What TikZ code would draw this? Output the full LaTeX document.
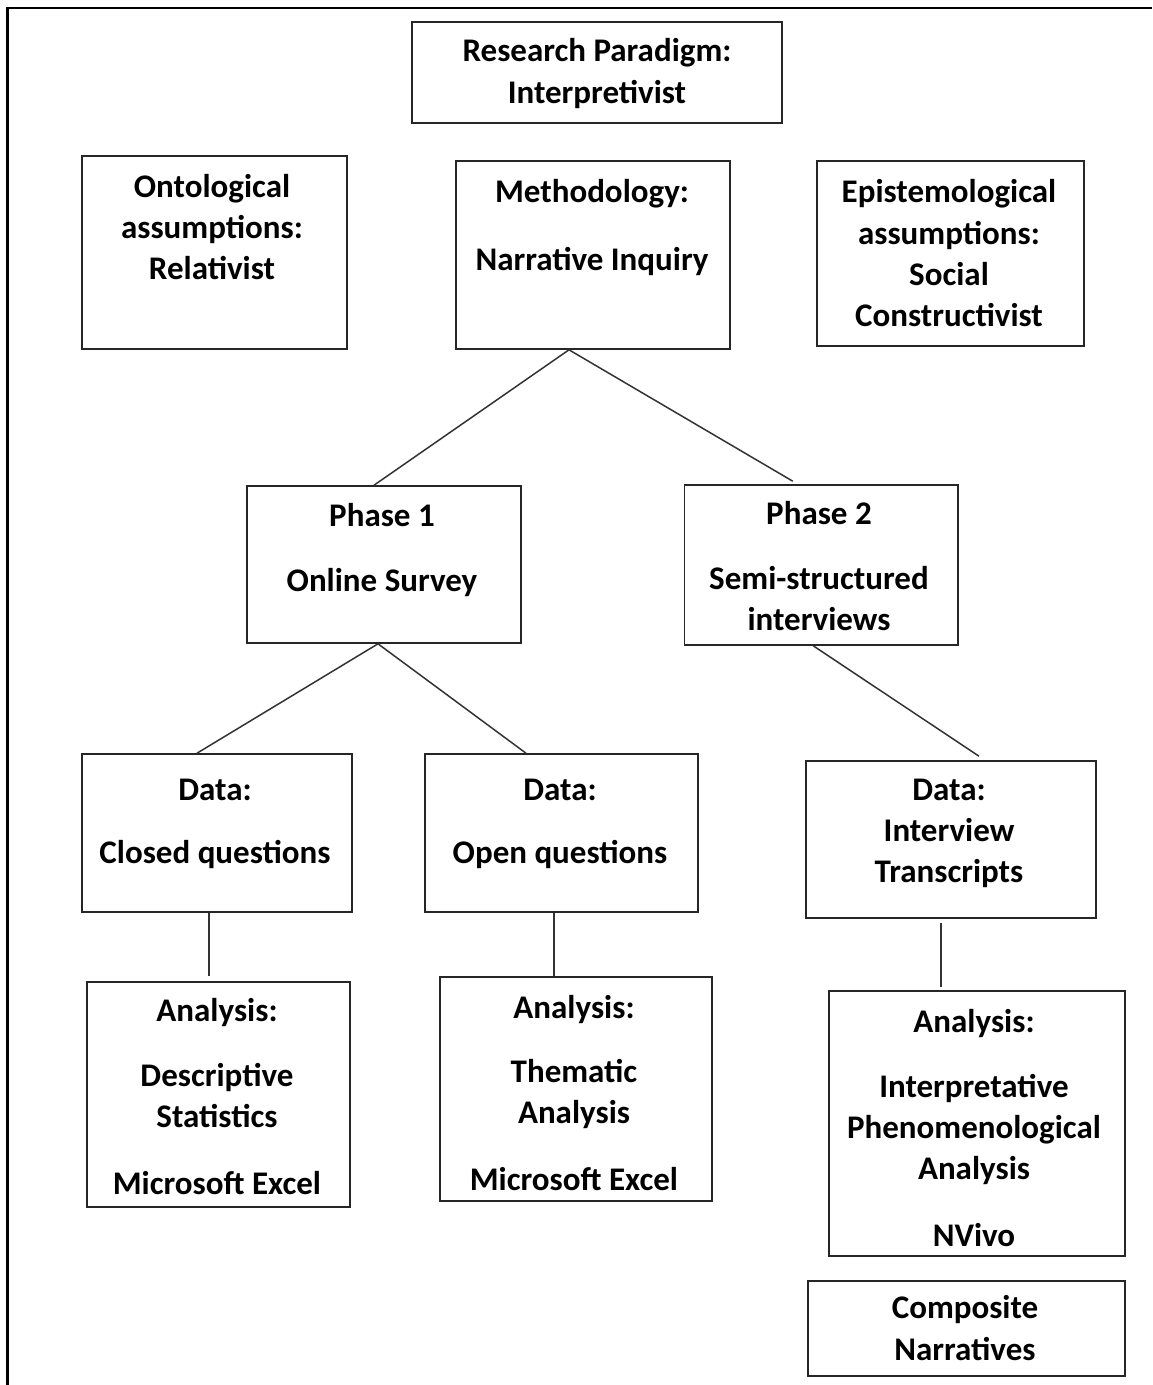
\documentclass[tikz,border=0pt]{standalone}
\usepackage{fontspec}
\newfontfamily\carlito{Carlito}
\begin{document}
\begin{tikzpicture}[x=1pt,y=-1pt,
  box/.style={draw=black!85,line width=1.6pt,rectangle,inner sep=0pt},
  txt/.style={anchor=north,align=center,inner sep=0pt,
    font=\carlito\bfseries\fontsize{33}{41.3}\selectfont,
    execute at begin node=\strut},
  link/.style={draw=black!80,line width=1.5pt}]
\useasboundingbox (0,0) rectangle (1152,1385);
% outer frame (open at right and bottom)
\draw[line width=2.5pt] (7.5,1385) -- (7.5,8) -- (1152,8);

% boxes
\node[box,minimum width=370pt,minimum height=101pt] (para) at (597,72.5) {};
\node[box,minimum width=265pt,minimum height=193pt] (onto) at (214.5,252.5) {};
\node[box,minimum width=274pt,minimum height=188pt] (meth) at (593,255) {};
\node[box,minimum width=267pt,minimum height=185pt] (epis) at (950.5,253.5) {};
\node[box,minimum width=274pt,minimum height=157pt] (ph1) at (384,564.5) {};
\node[box,minimum width=273.5pt,minimum height=160pt] (ph2) at (821.25,565) {};
\node[box,minimum width=270pt,minimum height=158pt] (dcl) at (217,833) {};
\node[box,minimum width=273pt,minimum height=158pt] (dop) at (561.5,833) {};
\node[box,minimum width=290pt,minimum height=157pt] (dint) at (951,839.5) {};
\node[box,minimum width=263pt,minimum height=225pt] (an1) at (218.5,1094.5) {};
\node[box,minimum width=272pt,minimum height=224pt] (an2) at (576,1089) {};
\node[box,minimum width=296pt,minimum height=265pt] (an3) at (977,1123.5) {};
\node[box,minimum width=317pt,minimum height=95pt] (comp) at (966.5,1328.5) {};

% texts, each placed by the top of its first line
\node[txt] (paraT) at (597,38.5) {Research Paradigm:\\Interpretivist};
\node[txt] (ontoT) at (212,174) {Ontological\\assumptions:\\Relativist};
\node[txt] (methT) at (592,179.5) {Methodology:\\[26pt]Narrative Inquiry};
\node[txt] (episT) at (949,179.5) {Epistemological\\assumptions:\\Social\\Constructivist};
\node[txt] (ph1T) at (382,503.5) {Phase 1\\[23pt]Online Survey};
\node[txt] (ph2T) at (819,501.5) {Phase 2\\[23pt]Semi-structured\\interviews};
\node[txt] (dclT) at (215,778.5) {Data:\\[22pt]Closed questions};
\node[txt] (dopT) at (560,778.5) {Data:\\[22pt]Open questions};
\node[txt] (dintT) at (949,778.5) {Data:\\Interview\\Transcripts};
\node[txt] (an1T) at (217,998.5) {Analysis:\\[23pt]Descriptive\\Statistics\\[26pt]Microsoft Excel};
\node[txt] (an2T) at (574,995) {Analysis:\\[23pt]Thematic\\Analysis\\[25pt]Microsoft Excel};
\node[txt] (an3T) at (974,1009.5) {Analysis:\\[23pt]Interpretative\\Phenomenological\\Analysis\\[25pt]NVivo};
\node[txt] (compT) at (965,1295.5) {Composite\\Narratives};

% connectors
\draw[link] ([xshift=-10pt]ph1.north) -- ([xshift=-24pt]meth.south)
            -- ([xshift=-28.5pt,yshift=3pt]ph2.north);
\draw[link] ([xshift=-20pt]dcl.north) -- ([xshift=-6pt]ph1.south)
            -- ([xshift=-35.5pt]dop.north);
\draw[link] ([xshift=-8pt]ph2.south) -- ([xshift=28pt,yshift=4pt]dint.north);
\draw[link] ([xshift=-8pt]dcl.south) -- ([xshift=-8pt,yshift=5pt]dcl.south |- an1.north);
\draw[link] ([xshift=-7.5pt]dop.south) -- ([xshift=-7.5pt]dop.south |- an2.north);
\draw[link] ([xshift=-10pt,yshift=-4pt]dint.south) -- ([xshift=-10pt,yshift=3pt]dint.south |- an3.north);
\end{tikzpicture}
\end{document}
